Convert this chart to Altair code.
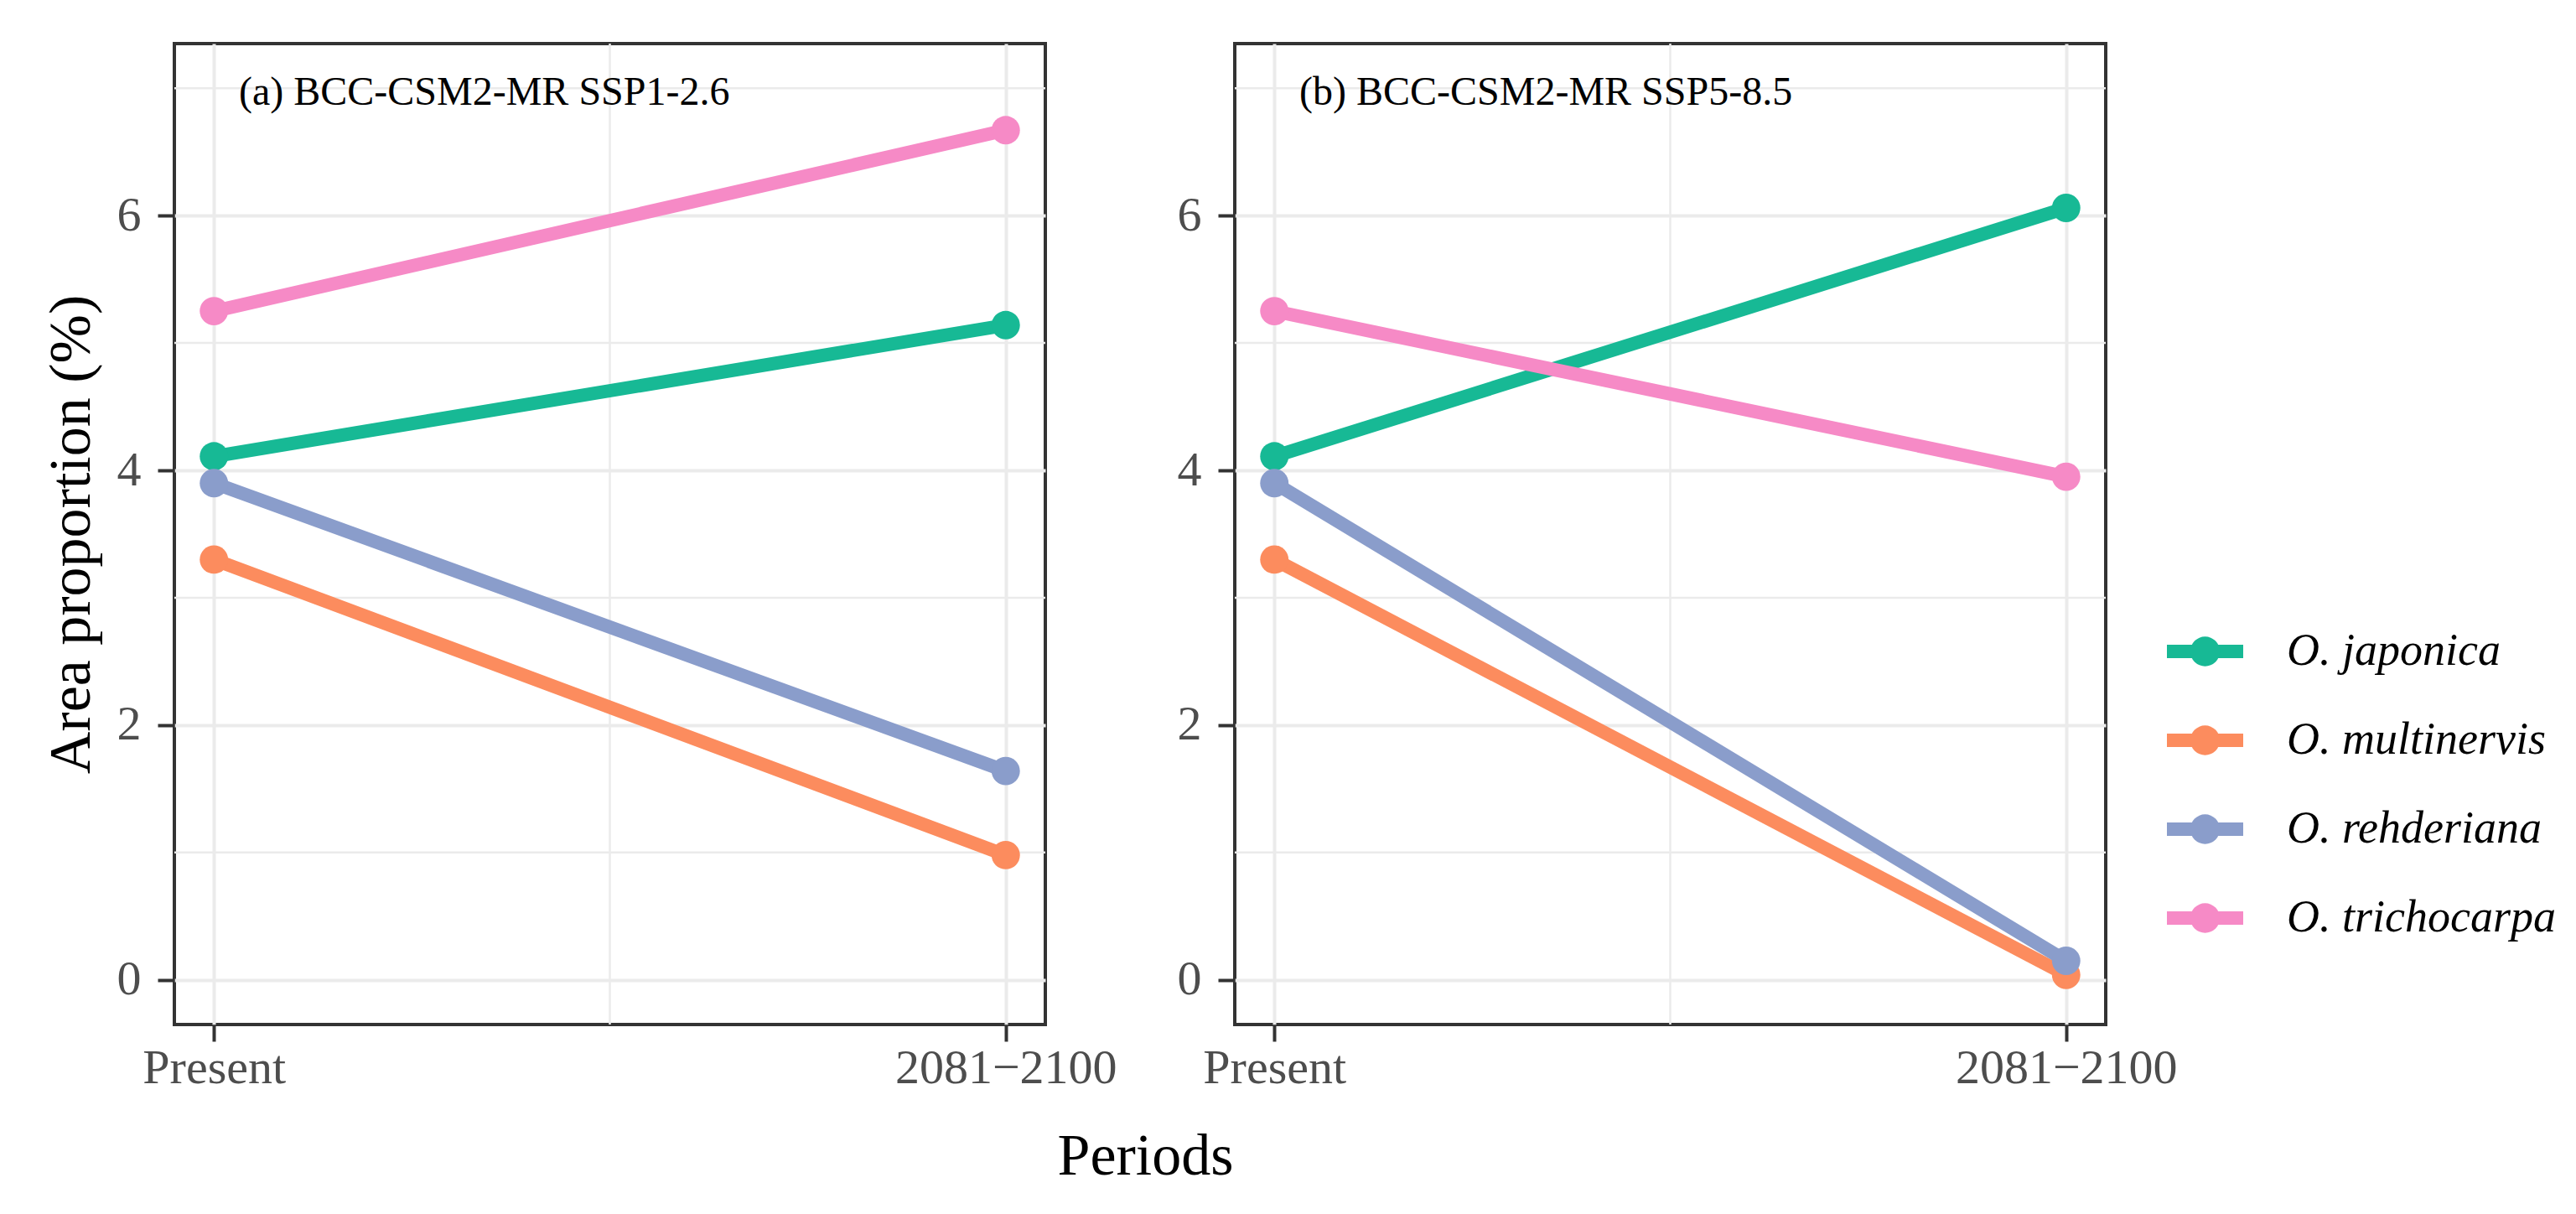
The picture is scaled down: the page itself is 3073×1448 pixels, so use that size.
import altair as alt
import pandas as pd

# ---------------- data ----------------
species = ["O. japonica", "O. multinervis", "O. rehderiana", "O. trichocarpa"]
periods = ["Present", "2081\u22122100"]
panel_titles = ["(a) BCC-CSM2-MR SSP1-2.6", "(b) BCC-CSM2-MR SSP5-8.5"]

ssp126_present = [4.11, 3.30, 3.90, 5.25]
ssp126_future = [5.14, 0.98, 1.64, 6.67]
ssp585_present = [4.11, 3.30, 3.90, 5.25]
ssp585_future = [6.06, 0.04, 0.15, 3.95]

colors = ["#17B995", "#FC8C5E", "#8A9DCB", "#F68AC6"]

y_major = [0, 2, 4, 6]
y_minor = [1, 3, 5, 7]
x_minor = [1.5]

FONT = "Liberation Serif"
W, H = 1039, 1170
BORDER = alt.ViewBackground(stroke="#333333", strokeWidth=4)


def make_df(present, future):
    rows = []
    for i, sp in enumerate(species):
        for j, vals in enumerate([present, future]):
            rows.append({"species": sp, "period": periods[j], "pos": j + 1, "value": vals[i]})
    return pd.DataFrame(rows)


xscale = alt.Scale(domain=[0.95, 2.05], nice=False, zero=False)
yscale = alt.Scale(domain=[-0.35, 7.35], nice=False, zero=False)
cscale = alt.Scale(domain=species, range=colors)

label_expr = " : ".join(
    [f"datum.value === {i + 1} ? '{p}'" for i, p in enumerate(periods)]
) + " : ''"


def panel(df, title_text, first):
    xaxis_kw = dict(values=[1, 2], labelExpr=label_expr, labelFlush=False,
                    labelPadding=3, grid=True, labelLimit=1000)
    if first:
        xaxis = alt.Axis(title="Periods", titleX=1158, titleY=123, **xaxis_kw)
        yaxis = alt.Axis(title="Area proportion (%)", values=y_major, labelPadding=20,
                         titlePadding=18, grid=True)
    else:
        xaxis = alt.Axis(title="", **xaxis_kw)
        yaxis = alt.Axis(title="", values=y_major, labelPadding=20, grid=True)

    hgrid = alt.Chart(pd.DataFrame({"v": y_minor})).mark_rule(
        color="#EBEBEB", strokeWidth=2.5).encode(
        y=alt.Y("v:Q", scale=yscale, axis=yaxis))
    vgrid = alt.Chart(pd.DataFrame({"v": x_minor})).mark_rule(
        color="#EBEBEB", strokeWidth=2.5).encode(
        x=alt.X("v:Q", scale=xscale, axis=xaxis))

    base = alt.Chart(df)
    lines = base.mark_line(strokeWidth=16).encode(
        x=alt.X("pos:Q", scale=xscale, axis=xaxis),
        y=alt.Y("value:Q", scale=yscale, axis=yaxis),
        stroke=alt.Stroke("species:N", scale=cscale, legend=None),
        detail="species:N",
    )
    points = base.mark_circle(size=1150, opacity=1).encode(
        x=alt.X("pos:Q", scale=xscale, axis=xaxis),
        y=alt.Y("value:Q", scale=yscale, axis=yaxis),
        color=alt.Color("species:N", scale=cscale, legend=None),
    )
    label = alt.Chart(pd.DataFrame({"t": [title_text]})).mark_text(
        align="left", baseline="alphabetic", font=FONT, fontSize=48, color="black"
    ).encode(x=alt.value(77), y=alt.value(73), text="t:N")

    return alt.layer(hgrid, vgrid, lines, points, label).properties(
        width=W, height=H, view=BORDER)


pa = panel(make_df(ssp126_present, ssp126_future), panel_titles[0], True)
pb = panel(make_df(ssp585_present, ssp585_future), panel_titles[1], False)

# ---- manual legend (line + dot symbol, italic labels) ----
leg_df = pd.DataFrame({"species": species})
leg_y = alt.Y("species:N",
              scale=alt.Scale(type="point", domain=species, range=[725, 1043], padding=0),
              axis=None)
leg_color = alt.Color("species:N", scale=cscale, legend=None)
leg_base = alt.Chart(leg_df)
leg_line = leg_base.mark_rule(strokeWidth=16).encode(
    x=alt.value(-153), x2=alt.value(-62), y=leg_y, color=leg_color)
leg_dot = leg_base.mark_circle(size=1250, opacity=1).encode(
    x=alt.value(-107.5), y=leg_y, color=leg_color)
leg_text = leg_base.mark_text(
    align="left", baseline="middle", font=FONT, fontSize=54, fontStyle="italic",
    color="black").encode(x=alt.value(-10), y=leg_y, text="species:N")
legend_chart = alt.layer(leg_line, leg_dot, leg_text).properties(
    width=300, height=H, view=alt.ViewBackground(strokeWidth=0))

chart = alt.hconcat(pa, pb, legend_chart, spacing=226, bounds="flush").resolve_scale(
    color="independent", stroke="independent").properties(
    padding={"left": 40, "top": 40, "right": 10, "bottom": 10},
    background="white",
).configure_view(
    strokeWidth=0
).configure_axis(
    labelFont=FONT, labelFontSize=58, labelColor="#4D4D4D",
    titleFont=FONT, titleFontSize=70, titleColor="black", titleFontWeight="normal",
    tickColor="#333333", tickWidth=4, tickSize=20, domain=False,
    gridColor="#EBEBEB", gridWidth=4,
)

chart.save("out.html", embed_options={"renderer": "svg", "actions": False})
